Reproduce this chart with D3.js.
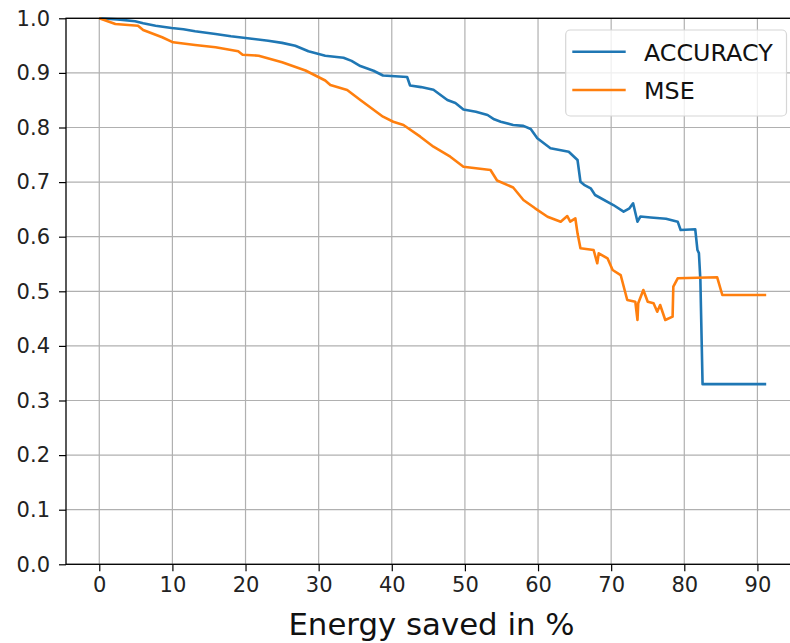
<!DOCTYPE html>
<html>
<head>
<meta charset="utf-8">
<script src="https://cdn.jsdelivr.net/npm/d3@7"></script>
<style>
  body { margin: 0; background: #fff; }
  svg { display: block; font-family: "DejaVu Sans", sans-serif; }
</style>
</head>
<body>
<div id="chart"></div>
<script>
// values
var accEnergy = [0, 2.5, 4.9, 6.0, 7.7, 9.9, 11.5, 13.1, 15.9, 18.0, 20.0, 23.1, 25.0, 26.8, 28.6, 30.9, 33.4, 34.5, 35.7, 37.5, 38.8,
    42.1, 42.5, 44.0, 45.7, 47.6, 48.7, 49.8, 51.5, 53.1, 54.0, 54.9, 56.6, 58.0, 59.0, 59.9, 61.7, 64.2, 65.4, 65.8,
    66.3, 67.2, 67.8, 70.3, 71.7, 72.5, 73.0, 73.6, 74.0, 75.4, 77.5, 79.1, 79.5, 81.5, 81.8, 82.0, 82.2, 82.5, 91.2];
var accValues = [1.0, 0.998, 0.9945, 0.991, 0.9864, 0.9822, 0.980, 0.9762, 0.9712, 0.967, 0.9639, 0.959, 0.955, 0.9498, 0.9396, 0.9315, 0.9277, 0.922, 0.9126, 0.904, 0.8952,
    0.8925, 0.8769, 0.874, 0.8692, 0.8504, 0.8449, 0.833, 0.829, 0.8229, 0.815, 0.8106, 0.8046, 0.803, 0.7973, 0.7802, 0.7619, 0.7557, 0.7405, 0.7007,
    0.695, 0.6886, 0.6764, 0.658, 0.6458, 0.652, 0.6612, 0.6275, 0.637, 0.6352, 0.633, 0.6275, 0.6123, 0.6136, 0.5756, 0.57, 0.5207, 0.330, 0.330];

var mseEnergy = [0, 2.2, 5.3, 6.0, 8.6, 10.1, 13.1, 15.9, 19.0, 19.6, 21.8, 25.0, 28.2, 30.9, 31.6, 33.9, 35.7,
    38.8, 40.2, 41.6, 43.9, 45.7, 48.0, 49.8, 53.5, 54.4, 56.6, 58.0, 59.6, 61.3, 63.1, 64.0, 64.4, 65.1, 65.4,
    65.8, 67.6, 68.1, 68.3, 69.5, 70.2, 71.3, 72.2, 73.3, 73.6, 73.7, 74.4, 75.0, 75.8, 76.3, 76.7, 77.4, 78.4,
    78.5, 79.1, 84.5, 85.2, 91.2];
var mseValues = [1.0, 0.9896, 0.9864, 0.9786, 0.9652, 0.956, 0.9511, 0.9469, 0.9396, 0.9333, 0.9315, 0.9194, 0.9044, 0.8861, 0.8778, 0.8687, 0.8504,
    0.8198, 0.8106, 0.8046, 0.7832, 0.7648, 0.7465, 0.7282, 0.7221, 0.7029, 0.6901, 0.6672, 0.652, 0.6366, 0.6275, 0.6379, 0.6275, 0.6337, 0.6062,
    0.5788, 0.5756, 0.5513, 0.5696, 0.5604, 0.539, 0.5298, 0.4841, 0.481, 0.4474, 0.478, 0.5024, 0.481, 0.478, 0.4626, 0.4749, 0.4474, 0.4535,
    0.5084, 0.5238, 0.5256, 0.4932, 0.4932];

var seriesNames = ["ACCURACY", "MSE"];
var seriesColors = ["#1f77b4", "#ff7f0e"];
var xTicks = [0, 10, 20, 30, 40, 50, 60, 70, 80, 90];
var yTicks = [0.0, 0.1, 0.2, 0.3, 0.4, 0.5, 0.6, 0.7, 0.8, 0.9, 1.0];
var xLabel = "Energy saved in %";

var width = 790, height = 643;
var plot = { left: 66, right: 798, top: 18.3, bottom: 564.3 };

var svg = d3.select("#chart").append("svg")
    .attr("width", width)
    .attr("height", height);

var x = d3.scaleLinear().domain([-4.55, 95.55]).range([plot.left, plot.right]);
var y = d3.scaleLinear().domain([0, 1]).range([plot.bottom, plot.top]);

// grid
svg.append("g").selectAll("line")
    .data(xTicks).enter().append("line")
    .attr("x1", function(d) { return x(d); })
    .attr("x2", function(d) { return x(d); })
    .attr("y1", plot.top).attr("y2", plot.bottom)
    .attr("stroke", "#b0b0b0").attr("stroke-width", 1.2);

svg.append("g").selectAll("line")
    .data(yTicks).enter().append("line")
    .attr("x1", plot.left).attr("x2", plot.right)
    .attr("y1", function(d) { return y(d); })
    .attr("y2", function(d) { return y(d); })
    .attr("stroke", "#b0b0b0").attr("stroke-width", 1.2);

// lines
var line = d3.line()
    .x(function(d) { return x(d[0]); })
    .y(function(d) { return y(d[1]); });

var series = [d3.zip(accEnergy, accValues), d3.zip(mseEnergy, mseValues)];

svg.append("g").selectAll("path")
    .data(series).enter().append("path")
    .attr("d", line)
    .attr("fill", "none")
    .attr("stroke", function(d, i) { return seriesColors[i]; })
    .attr("stroke-width", 2.6)
    .attr("stroke-linejoin", "round");

// axes
var xAxis = d3.axisBottom(x).tickValues(xTicks).tickSize(7).tickPadding(6)
    .tickFormat(d3.format("d"));
var yAxis = d3.axisLeft(y).tickValues(yTicks).tickSize(7).tickPadding(9)
    .tickFormat(d3.format(".1f"));

var gx = svg.append("g").attr("transform", "translate(0," + plot.bottom + ")").call(xAxis);
var gy = svg.append("g").attr("transform", "translate(" + plot.left + ",0)").call(yAxis);

[gx, gy].forEach(function(g) {
    g.select(".domain").remove();
    g.selectAll(".tick line").attr("stroke", "#000").attr("stroke-width", 1.2);
    g.selectAll(".tick text")
        .attr("fill", "#222")
        .style("font-family", "DejaVu Sans")
        .style("font-size", "21px");
});

// spines
svg.append("rect")
    .attr("x", plot.left).attr("y", plot.top)
    .attr("width", plot.right - plot.left).attr("height", plot.bottom - plot.top)
    .attr("fill", "none").attr("stroke", "#000").attr("stroke-width", 1.3);

// x label
svg.append("text")
    .attr("x", 431.5)
    .attr("y", 635)
    .attr("text-anchor", "middle")
    .style("font-size", "30.8px")
    .attr("fill", "#111")
    .text(xLabel);

// legend
var legend = svg.append("g");
legend.append("rect")
    .attr("x", 565.7).attr("y", 30)
    .attr("width", 220.8).attr("height", 86)
    .attr("rx", 4.5)
    .attr("fill", "#fff").attr("fill-opacity", 0.8)
    .attr("stroke", "#d6d6d6").attr("stroke-width", 1.2);

var items = legend.selectAll("g")
    .data(seriesNames).enter().append("g")
    .attr("transform", function(d, i) { return "translate(0," + (51.7 + i * 38.3) + ")"; });

items.append("line")
    .attr("x1", 572.3).attr("x2", 625.7)
    .attr("stroke", function(d, i) { return seriesColors[i]; })
    .attr("stroke-width", 2.6);

items.append("text")
    .attr("x", 644)
    .attr("y", 8.8)
    .style("font-size", "23.8px")
    .attr("fill", "#111")
    .text(function(d) { return d; });
</script>
</body>
</html>
